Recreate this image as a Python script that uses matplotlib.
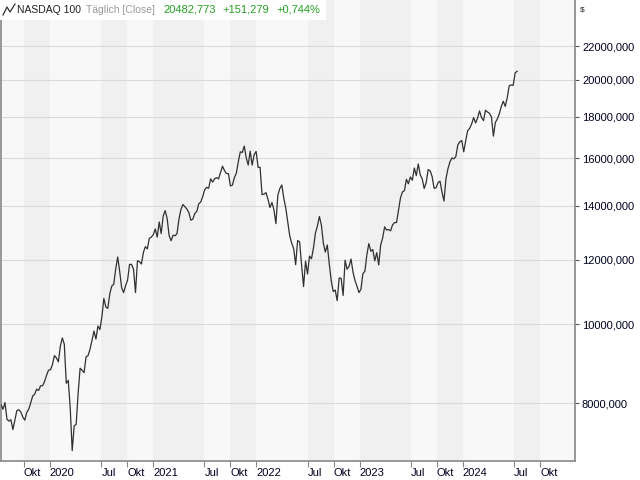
import numpy as np
import pandas as pd
import matplotlib
matplotlib.use("Agg")
import matplotlib.pyplot as plt
from matplotlib.lines import Line2D
from matplotlib.patches import Rectangle

# weekly closes (Friday), NASDAQ 100, Jul 2019 - Jul 2024
values = [
    # 2019 (from Jul 12)
    7960, 7860, 8010, 7640, 7600, 7630, 7420, 7620, 7830, 7850, 7800, 7690,
    7620, 7790, 7860, 8000, 8160, 8200, 8320, 8290, 8400, 8400, 8500, 8650, 8780,
    # 2020
    8790, 8920, 9150, 9090, 8990, 9400, 9620, 9450, 8460, 8530, 7880, 6990,
    7500, 7530, 8230, 8830, 8780, 8720, 9120, 9150, 9320, 9550, 9810, 9590,
    9950, 9850, 10210, 10760, 10500, 10460, 10900, 11140, 11200, 11700, 12100,
    11620, 11090, 10940, 11160, 11330, 11850, 11850, 11690, 10940, 11970, 11940,
    11860, 12260, 12460, 12380, 12760, 12800, 12890,
    # 2021
    13100, 12800, 13360, 12930, 13590, 13800, 13500, 12860, 12670, 12870, 12850,
    12930, 13480, 13850, 14040, 13950, 13860, 13720, 13430, 13470, 13690, 13770,
    14070, 14140, 14360, 14640, 14740, 14700, 15100, 14960, 15100, 15150, 15100,
    15370, 15650, 15460, 15330, 15320, 14800, 14830, 15150, 15340, 15850, 16300,
    16270, 16570, 16030, 15700, 16330, 15700, 16170, 16320,
    # 2022
    15600, 15600, 14440, 14460, 14520, 14250, 13920, 14120, 13840, 13300, 14420,
    14690, 14840, 14290, 13900, 13360, 12850, 12580, 12390, 11840, 12680, 12630,
    11830, 11130, 11960, 11530, 12130, 12040, 12410, 12950, 13210, 13570, 13250,
    12580, 12270, 12520, 11860, 11310, 10970, 11020, 10690, 11400, 11390, 10850,
    11990, 11690, 11780, 12030, 11590, 11320, 11140, 10940,
    # 2023
    11040, 11540, 11620, 12170, 12570, 12300, 12360, 11970, 12250, 11830, 12520,
    12770, 13180, 13060, 13080, 13030, 13250, 13340, 13340, 13820, 14300, 14550,
    14600, 15080, 14890, 15180, 15040, 15570, 15240, 15750, 15270, 15100, 14690,
    14940, 15500, 15450, 15200, 14700, 14720, 14940, 15000, 14540, 14180, 15100,
    15530, 15840, 16020, 15980, 16080, 16620, 16770, 16830,
    # 2024
    16300, 16830, 17310, 17420, 17640, 17960, 17690, 17940, 18300, 17960, 17810,
    18340, 18250, 18180, 18000, 17040, 17720, 17890, 18160, 18540, 18810, 18540,
    19000, 19660, 19700, 19680, 20390, 20482.773,
]
dates = pd.date_range("2019-07-12", periods=len(values), freq="W-FRI")

y_ticks = [8000, 10000, 12000, 14000, 16000, 18000, 20000, 22000]
x_ticks = ["2019-10-01", "2020-01-01", "2020-07-01", "2020-10-01", "2021-01-01",
           "2021-07-01", "2021-10-01", "2022-01-01", "2022-07-01", "2022-10-01",
           "2023-01-01", "2023-07-01", "2023-10-01", "2024-01-01", "2024-07-01",
           "2024-10-01"]
x_labels = ["Okt", "2020", "Jul", "Okt", "2021", "Jul", "Okt", "2022", "Jul", "Okt",
            "2023", "Jul", "Okt", "2024", "Jul", "Okt"]

plt.rcParams['font.family'] = ['Liberation Sans', 'DejaVu Sans']

fig = plt.figure(figsize=(6.4, 4.8), dpi=100)
ax = fig.add_axes([0.0016, 0.0396, 0.8969, 0.9604])

xmin, xmax = pd.Timestamp("2019-07-12"), pd.Timestamp("2025-02-02")
ax.set_xlim(xmin, xmax)
ax.set_yscale("log")
ax.set_ylim(6788, 25063)

# alternating background bands between the date ticks
bounds = [xmin] + [pd.Timestamp(d) for d in x_ticks] + [xmax]
for i in range(len(bounds) - 1):
    c = "#f8f8f8" if i % 2 == 0 else "#f0f0f0"
    ax.axvspan(bounds[i], bounds[i + 1], color=c, lw=0, zorder=0)

for v in y_ticks:
    ax.axhline(v, color="#dadada", lw=0.8, zorder=1)

ax.plot(dates, values, color="#303030", lw=0.9, zorder=3)

ax.yaxis.tick_right()
ax.yaxis.set_minor_locator(matplotlib.ticker.NullLocator())
ax.set_yticks(y_ticks)
ax.set_yticklabels([f"{v:.3f}".replace(".", ",") for v in y_ticks])
ax.tick_params(axis="y", length=3, pad=2, color="#555555", labelsize=8, labelcolor="#000020")

ax.set_xticks([pd.Timestamp(d) for d in x_ticks])
ax.set_xticklabels(x_labels)
ax.tick_params(axis="x", length=4, pad=1, color="#888888", labelsize=8, labelcolor="#000020")
for lbl in ax.get_xticklabels():
    lbl.set_horizontalalignment("left")

for s in ["left", "bottom", "right"]:
    ax.spines[s].set_color("#888888")
    ax.spines[s].set_linewidth(1.2)
ax.spines["top"].set_visible(False)

# header box
fig.patches.append(Rectangle((0, 1 - 20 / 480), 326 / 640, 20 / 480, transform=fig.transFigure,
                             facecolor="white", edgecolor="none", zorder=5))
fig.lines.append(Line2D(np.array([3, 7, 10, 15]) / 640, 1 - np.array([15, 7, 12, 4]) / 480,
                        transform=fig.transFigure, color="#303030", lw=0.9, zorder=6))
hy = 1 - 10 / 480
fig.text(17 / 640, hy, "NASDAQ 100", color="#202020", fontsize=7.5, va="center", zorder=6)
fig.text(86 / 640, hy, "Täglich [Close]", color="#999999", fontsize=7.5, va="center", zorder=6)
fig.text(163 / 640, hy, "20482,773", color="#22a022", fontsize=8, va="center", zorder=6)
fig.text(222 / 640, hy, "+151,279", color="#22a022", fontsize=8, va="center", zorder=6)
fig.text(276 / 640, hy, "+0,744%", color="#22a022", fontsize=8, va="center", zorder=6)
fig.text(580 / 640, 1 - 10 / 480, "$", color="#202020", fontsize=6, va="center")

fig.savefig("out.png", dpi=100)
